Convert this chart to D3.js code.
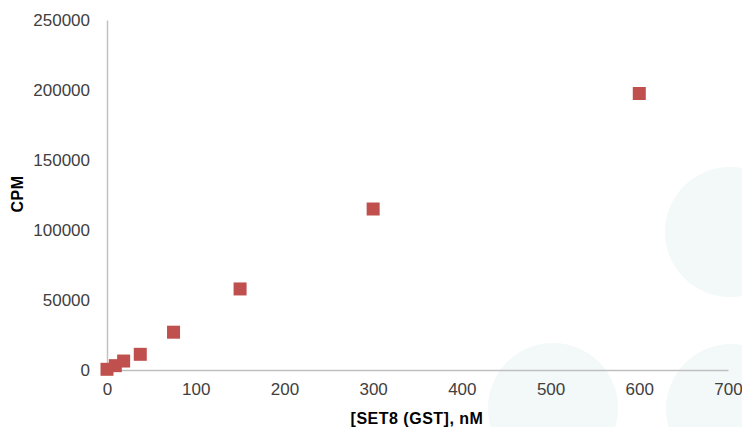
<!DOCTYPE html>
<html>
<head>
<meta charset="utf-8">
<script src="https://cdn.jsdelivr.net/npm/d3@7"></script>
<style>
  html, body { margin: 0; padding: 0; background: #fff; }
  svg { display: block; }
  text { font-family: "Liberation Sans", Arial, sans-serif; }
</style>
</head>
<body>
<svg id="chart" width="742" height="427"></svg>
<script>
// SET8 (GST) titration, counts per minute
const concentrations = [0, 9.375, 18.75, 37.5, 75, 150, 300, 600];
const cpm = [500, 3100, 6400, 11200, 27000, 57900, 115000, 197500];
const xTicks = [0, 100, 200, 300, 400, 500, 600, 700];
const yTicks = [0, 50000, 100000, 150000, 200000, 250000];

const svg = d3.select("#chart");
const margin = { left: 107, right: 14, top: 20, bottom: 57 };
const W = 742, H = 427;

const x = d3.scaleLinear().domain([0, 700]).range([margin.left, W - margin.right]);
const y = d3.scaleLinear().domain([0, 250000]).range([H - margin.bottom, margin.top]);

// faint decorative circles in the background
const decor = [
  { cx: 730, cy: 232, r: 65 },
  { cx: 553, cy: 408, r: 65 },
  { cx: 731, cy: 409, r: 65 }
];
svg.append("g").selectAll("circle").data(decor).join("circle")
  .attr("cx", d => d.cx).attr("cy", d => d.cy).attr("r", d => d.r)
  .attr("fill", "#f3f8f8");

const axisColor = "#bfbfbf";
const labelColor = "#404040";

// x axis
const gx = svg.append("g").attr("transform", `translate(0,${y(0)})`)
  .call(d3.axisBottom(x).tickValues(xTicks).tickSize(0).tickPadding(13).tickFormat(d3.format("d")));
gx.select(".domain").attr("stroke", axisColor).attr("stroke-width", 1.4);
gx.selectAll("text").attr("font-size", 17).attr("fill", labelColor)
  .attr("font-family", "Liberation Sans, Arial, sans-serif");

// y axis
const gy = svg.append("g").attr("transform", `translate(${x(0)},0)`)
  .call(d3.axisLeft(y).tickValues(yTicks).tickSize(0).tickPadding(17).tickFormat(d3.format("d")));
gy.select(".domain").attr("stroke", axisColor).attr("stroke-width", 1.4);
gy.selectAll("text").attr("font-size", 17).attr("fill", labelColor)
  .attr("font-family", "Liberation Sans, Arial, sans-serif");

// axis titles
svg.append("text")
  .attr("x", 417).attr("y", 424)
  .attr("text-anchor", "middle")
  .attr("font-size", 16).attr("font-weight", "bold").attr("fill", "#000")
  .attr("letter-spacing", 0.5)
  .text("[SET8 (GST], nM");

svg.append("text")
  .attr("transform", "translate(23,194) rotate(-90)")
  .attr("text-anchor", "middle")
  .attr("font-size", 16).attr("font-weight", "bold").attr("fill", "#000")
  .attr("letter-spacing", 0.5)
  .text("CPM");

// data markers
const s = 13;
svg.append("g").selectAll("rect")
  .data(concentrations.map((c, i) => ({ c, v: cpm[i] })))
  .join("rect")
  .attr("x", d => x(d.c) - s / 2)
  .attr("y", d => y(d.v) - s / 2)
  .attr("width", s).attr("height", s)
  .attr("fill", "#c0504d");
</script>
</body>
</html>
